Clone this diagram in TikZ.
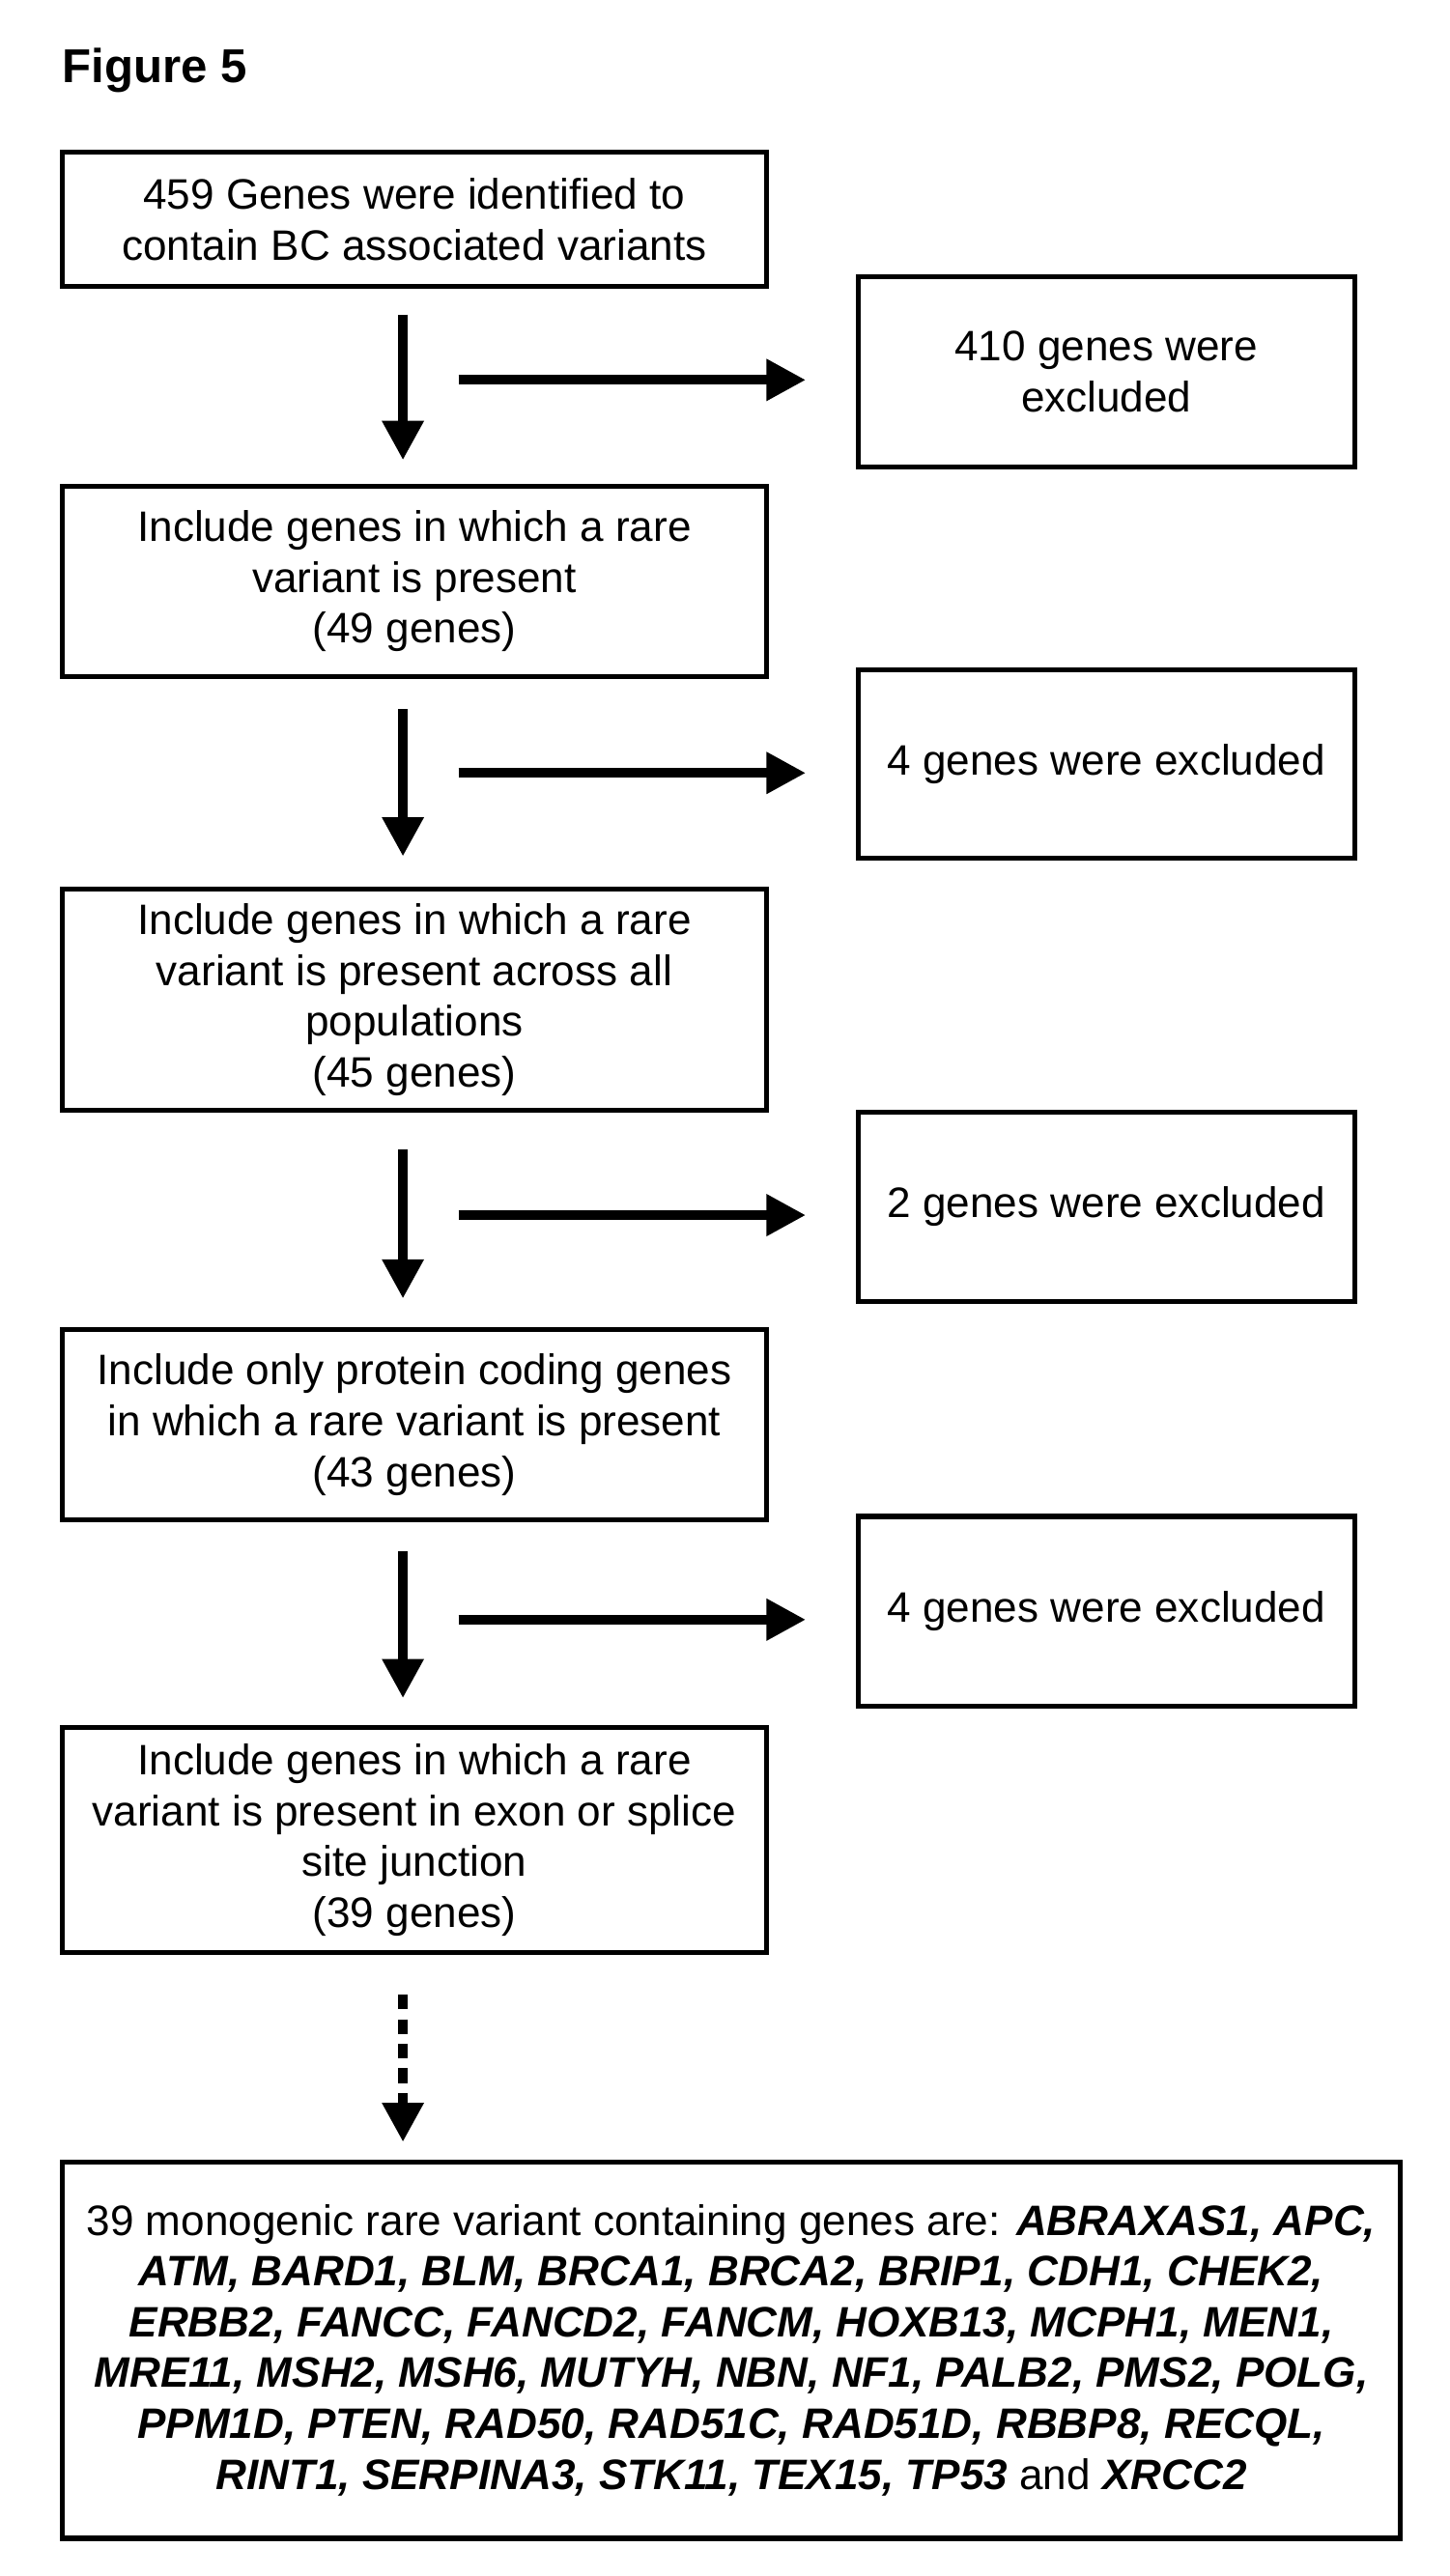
\documentclass[tikz,border=0pt]{standalone}
\usepackage{fontspec}
\setmainfont{Liberation Sans}
\usetikzlibrary{arrows.meta}
\begin{document}
\begin{tikzpicture}[x=1pt,y=-1pt,
  box/.style={draw,line width=3pt,align=center,font=\fontsize{26}{31}\selectfont,inner sep=0pt},
  arr/.style={line width=6pt,-{Triangle[width=24pt,length=24pt]}},
  darr/.style={arr,dash pattern=on 9pt off 6pt}]
\useasboundingbox (0,0) rectangle (885,1573);
\node[anchor=west,font=\fontsize{29}{32}\selectfont\bfseries,inner sep=0pt] (fig) at (38,43) {Figure 5};
\node[box,minimum width=430pt,minimum height=82pt] (b1) at (253,134) {459 Genes were identified to\\contain BC associated variants};
\node[box,minimum width=303pt,minimum height=116pt] (r1) at (675.5,227) {410 genes were\\excluded};
\node[box,minimum width=430pt,minimum height=116pt] (b2) at (253,355) {Include genes in which a rare\\variant is present\\(49 genes)};
\node[box,minimum width=303pt,minimum height=115pt] (r2) at (675.5,466.5) {4 genes were excluded};
\node[box,minimum width=430pt,minimum height=135pt] (b3) at (253,610.5) {Include genes in which a rare\\variant is present across all\\populations\\(45 genes)};
\node[box,minimum width=303pt,minimum height=116pt] (r3) at (675.5,737) {2 genes were excluded};
\node[box,minimum width=430pt,minimum height=116pt] (b4) at (253,870) {Include only protein coding genes\\in which a rare variant is present\\(43 genes)};
\node[box,minimum width=303pt,minimum height=116pt] (r4) at (675.5,984) {4 genes were excluded};
\node[box,minimum width=430pt,minimum height=137pt] (b5) at (253,1123.5) {Include genes in which a rare\\variant is present in exon or splice\\site junction\\(39 genes)};
\node[box,minimum width=817pt,minimum height=230pt] (b6) at (446.5,1435) {39 monogenic rare variant containing genes are: \textbf{\textit{ABRAXAS1, APC,}}\\
\textbf{\textit{ATM, BARD1, BLM, BRCA1, BRCA2, BRIP1, CDH1, CHEK2,}}\\
\textbf{\textit{ERBB2, FANCC, FANCD2, FANCM, HOXB13, MCPH1, MEN1,}}\\
\textbf{\textit{MRE11, MSH2, MSH6, MUTYH, NBN, NF1, PALB2, PMS2, POLG,}}\\
\textbf{\textit{PPM1D, PTEN, RAD50, RAD51C, RAD51D, RBBP8, RECQL,}}\\
\textbf{\textit{RINT1, SERPINA3, STK11, TEX15, TP53}} and \textbf{\textit{XRCC2}}};
\coordinate (a1s) at (246,192); \coordinate (a1e) at (246,281);
\coordinate (h1) at (280,232); \coordinate (h1e) at (492,232);
\coordinate (a2s) at (246,433); \coordinate (a2e) at (246,523);
\coordinate (h2) at (280,472); \coordinate (h2e) at (492,472);
\coordinate (a3s) at (246,702); \coordinate (a3e) at (246,793);
\coordinate (h3) at (280,742); \coordinate (h3e) at (492,742);
\coordinate (a4s) at (246,947); \coordinate (a4e) at (246,1037);
\coordinate (h4) at (280,989); \coordinate (h4e) at (492,989);
\coordinate (a5s) at (246,1218); \coordinate (a5e) at (246,1308);
\draw[arr] (a1s) -- (a1e); \draw[arr] (h1) -- (h1e);
\draw[arr] (a2s) -- (a2e); \draw[arr] (h2) -- (h2e);
\draw[arr] (a3s) -- (a3e); \draw[arr] (h3) -- (h3e);
\draw[arr] (a4s) -- (a4e); \draw[arr] (h4) -- (h4e);
\draw[darr] (a5s) -- (a5e);
\end{tikzpicture}
\end{document}
